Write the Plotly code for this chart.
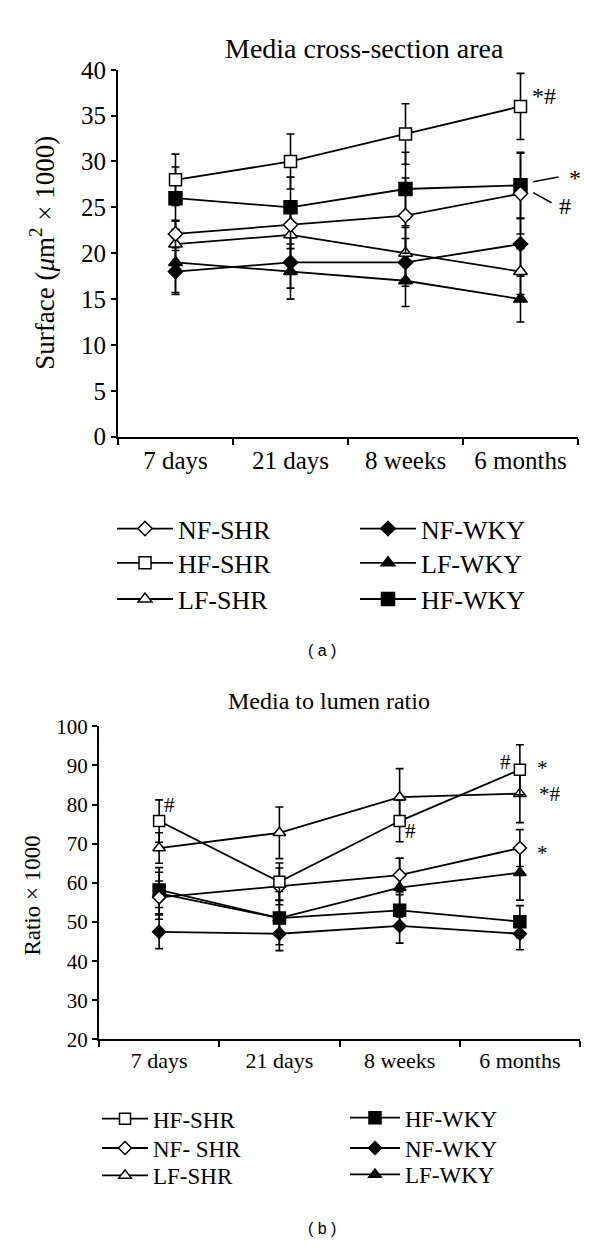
import plotly.graph_objects as go

categories = ["7 days", "21 days", "8 weeks", "6 months"]

# Panel (a): Media cross-section area (µm² × 1000)
a_nf_shr = [22.1, 23.1, 24.1, 26.5]
a_nf_shr_sd = [1.5, 2.6, 4.1, 4.4]
a_hf_shr = [28.0, 30.0, 33.0, 36.0]
a_hf_shr_sd = [2.8, 3.0, 3.3, 3.6]
a_lf_shr = [21.0, 22.0, 20.0, 18.0]
a_lf_shr_sd = [2.5, 2.6, 2.8, 2.5]
a_nf_wky = [18.0, 19.0, 19.0, 21.0]
a_nf_wky_sd = [2.3, 2.8, 2.6, 2.8]
a_lf_wky = [19.0, 18.0, 17.0, 15.0]
a_lf_wky_sd = [3.5, 3.0, 2.8, 2.5]
a_hf_wky = [26.0, 25.0, 27.0, 27.4]
a_hf_wky_sd = [3.4, 3.3, 4.0, 3.6]

# Panel (b): Media to lumen ratio (× 1000)
b_hf_shr = [75.8, 60.3, 75.8, 88.9]
b_hf_shr_sd = [5.4, 4.8, 5.3, 6.4]
b_nf_shr = [56.3, 59.1, 62.0, 68.9]
b_nf_shr_sd = [4.2, 4.7, 4.3, 4.7]
b_lf_shr = [68.9, 72.8, 81.9, 82.8]
b_lf_shr_sd = [3.9, 6.6, 7.3, 7.4]
b_hf_wky = [58.2, 51.0, 53.0, 50.1]
b_hf_wky_sd = [4.5, 4.6, 4.0, 4.1]
b_nf_wky = [47.5, 47.0, 49.0, 47.0]
b_nf_wky_sd = [4.3, 4.3, 4.4, 4.1]
b_lf_wky = [57.3, 51.0, 58.8, 62.6]
b_lf_wky_sd = [6.6, 6.8, 7.5, 7.0]

SERIF = "Liberation Serif"
SANS = "Liberation Sans"
OPEN = "white"
FILL = "black"

W, H = 600, 1256


def px_x(p):
    return p / W


def px_y(p):
    return 1 - p / H


fig = go.Figure()
legends = {}


def add(name, y, sd, symbol, fill, size, xa, ya, leg, lx, ly, fsize, iw):
    fig.add_trace(go.Scatter(
        x=categories, y=y, name=name, mode="lines+markers",
        xaxis=xa, yaxis=ya, legend=leg, showlegend=True,
        line=dict(color="black", width=1.8),
        marker=dict(symbol=symbol, size=size, color=fill,
                    line=dict(color="black", width=1.5)),
        error_y=dict(type="data", array=sd, visible=True, color="black",
                     thickness=1.6, width=4),
    ))
    legends[leg] = dict(x=px_x(lx), y=px_y(ly), xanchor="left", yanchor="middle",
                        font=dict(size=fsize, family=SERIF), visible=True,
                        bgcolor="rgba(0,0,0,0)", itemwidth=iw,
                        itemclick=False, itemdoubleclick=False)


# panel a  (legend rows at 527, 562, 599)
add("NF-WKY", a_nf_wky, a_nf_wky_sd, "diamond", FILL, 11, "x", "y", "legend4", 355, 527, 26, 56)
add("LF-WKY", a_lf_wky, a_lf_wky_sd, "triangle-up", FILL, 12, "x", "y", "legend5", 355, 562, 26, 56)
add("HF-WKY", a_hf_wky, a_hf_wky_sd, "square", FILL, 13, "x", "y", "legend6", 355, 599, 26, 56)
add("LF-SHR", a_lf_shr, a_lf_shr_sd, "triangle-up", OPEN, 12, "x", "y", "legend3", 112, 599, 26, 56)
add("NF-SHR", a_nf_shr, a_nf_shr_sd, "diamond", OPEN, 11, "x", "y", "legend", 112, 527, 26, 56)
add("HF-SHR", a_hf_shr, a_hf_shr_sd, "square", OPEN, 12, "x", "y", "legend2", 112, 562, 26, 56)

# panel b  (legend rows at 1130, 1160, 1188)
add("NF-WKY", b_nf_wky, b_nf_wky_sd, "diamond", FILL, 10, "x2", "y2", "legend11", 345, 1160, 23, 50)
add("HF-WKY", b_hf_wky, b_hf_wky_sd, "square", FILL, 12, "x2", "y2", "legend10", 345, 1129, 23, 50)
add("LF-WKY", b_lf_wky, b_lf_wky_sd, "triangle-up", FILL, 11, "x2", "y2", "legend12", 345, 1187, 23, 50)
add("NF- SHR", b_nf_shr, b_nf_shr_sd, "diamond", OPEN, 10, "x2", "y2", "legend8", 97, 1160, 23, 46)
add("LF-SHR", b_lf_shr, b_lf_shr_sd, "triangle-up", OPEN, 11, "x2", "y2", "legend9", 97, 1188, 23, 46)
add("HF-SHR", b_hf_shr, b_hf_shr_sd, "square", OPEN, 11, "x2", "y2", "legend7", 97, 1130, 23, 46)

axis_common = dict(showline=True, linecolor="black", linewidth=2,
                   ticks="outside", tickcolor="black", tickwidth=2,
                   showgrid=False, zeroline=False)

fig.update_layout(
    width=W, height=H, margin=dict(l=0, r=0, t=0, b=0),
    showlegend=True,
    paper_bgcolor="white", plot_bgcolor="white",
    font=dict(family=SERIF, color="black"),
    xaxis=dict(axis_common, domain=[px_x(118), px_x(578)], anchor="y",
               type="category", categoryorder="array", categoryarray=categories,
               tickson="boundaries", range=[-0.5, 3.5], ticklen=6,
               tickfont=dict(size=25, family=SERIF)),
    yaxis=dict(axis_common, domain=[px_y(433), px_y(58)], anchor="x",
               range=[0, 40], dtick=5, ticklen=5,
               tickfont=dict(size=25, family=SERIF)),
    xaxis2=dict(axis_common, domain=[px_x(99), px_x(580)], anchor="y2",
                type="category", categoryorder="array", categoryarray=categories,
                tickson="boundaries", range=[-0.5, 3.5], ticklen=6,
                tickfont=dict(size=22, family=SERIF)),
    yaxis2=dict(axis_common, domain=[px_y(1049), px_y(729)], anchor="x2",
                range=[20, 100], dtick=10, ticklen=5,
                tickfont=dict(size=21, family=SERIF)),
    **legends,
)


def txt(text, x, y, size, family=SERIF, angle=0):
    return dict(text=text, x=px_x(x), y=px_y(y), xref="paper", yref="paper",
                xanchor="center", yanchor="middle", showarrow=False,
                textangle=angle, font=dict(size=size, family=family))


ann = [
    txt("Media cross-section area", 365, 36, 28),
    txt("Media to lumen ratio", 329, 703, 24),
    txt("Surface (<i>μ</i>m<sup>2</sup> × 1000)", 42, 245, 27, angle=-90),
    txt("Ratio × 1000", 33, 902, 23, angle=-90),
    txt("( a )", 322, 652, 16, SANS),
    txt("( b )", 322, 1242, 16, SANS),
]

# significance markers panel a
for t, xx, yy in [("*#", 3.20, 37.1), ("*", 3.47, 28.2), ("#", 3.39, 25.2)]:
    ann.append(dict(text=t, x=xx, y=yy, xref="x", yref="y", showarrow=False,
                    xanchor="center", yanchor="middle",
                    font=dict(size=24, family=SERIF)))
# significance markers panel b
for t, xx, yy in [("#", 0.09, 80.0), ("#", 2.09, 73.3), ("#", 2.88, 91.0),
                  ("*", 3.19, 89.3), ("*#", 3.25, 82.7), ("*", 3.19, 67.6)]:
    ann.append(dict(text=t, x=xx, y=yy, xref="x2", yref="y2", showarrow=False,
                    xanchor="center", yanchor="middle",
                    font=dict(size=21, family=SERIF)))
fig.update_layout(annotations=ann)

fig.update_layout(shapes=[
    dict(type="line", xref="x", yref="y", x0=3.11, y0=27.8, x1=3.33, y1=28.3,
         line=dict(color="black", width=1.6)),
    dict(type="line", xref="x", yref="y", x0=3.11, y0=26.6, x1=3.27, y1=25.5,
         line=dict(color="black", width=1.6)),
])

fig.write_html("out.html", config={"displayModeBar": False},
               post_script="document.body.style.margin='0px';")
